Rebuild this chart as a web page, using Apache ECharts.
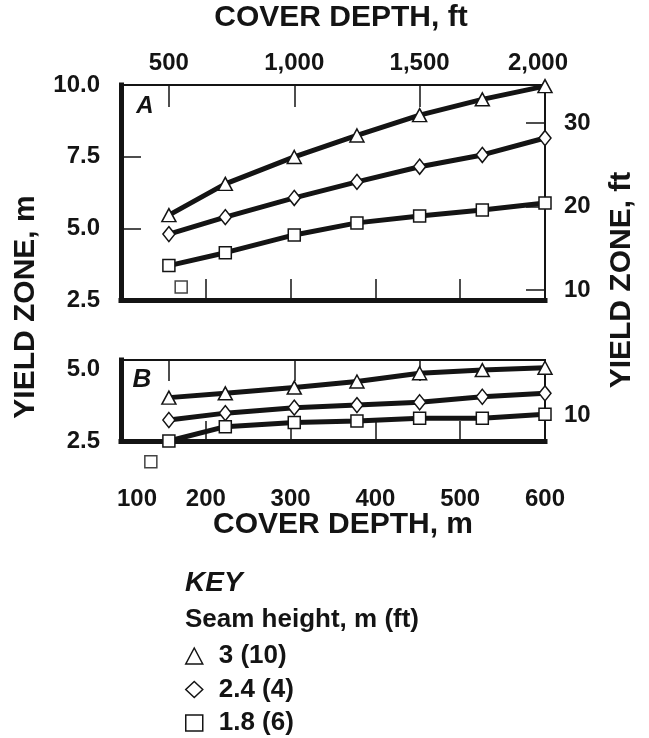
<!DOCTYPE html>
<html>
<head>
<meta charset="utf-8">
<script src="https://cdn.jsdelivr.net/npm/echarts@6/dist/echarts.min.js"></script>
<style>
  html, body { margin: 0; padding: 0; background: #ffffff; }
  #chart { width: 649px; height: 738px; }
</style>
</head>
<body>
<div id="chart"></div>
<script>
// Cover depth of the computed points, ft
const depthFt = [500, 725, 1000, 1250, 1500, 1750, 2000];

// Panel A: yield-zone width, m, per seam height
const zoneA_3m  = [5.46, 6.55, 7.49, 8.24, 8.95, 9.50, 9.96];
const zoneA_24m = [4.80, 5.39, 6.06, 6.62, 7.15, 7.56, 8.15];
const zoneA_18m = [3.70, 4.15, 4.77, 5.19, 5.43, 5.64, 5.88];

// Panel B: yield-zone width, m, per seam height
const zoneB_3m  = [4.01, 4.16, 4.36, 4.57, 4.86, 4.97, 5.05];
const zoneB_24m = [3.23, 3.47, 3.66, 3.75, 3.85, 4.04, 4.16];
const zoneB_18m = [2.50, 3.00, 3.14, 3.20, 3.29, 3.29, 3.43];

// Isolated square marks [depth ft, zone m]
const loneA = [[549, 2.95]];
const loneB = [[428, 1.78]];

// Seam heights, m (ft), and their marks
const seamNames = ['3 (10)', '2.4 (4)', '1.8 (6)'];
const seamSymbols = ['triangle', 'diamond', 'rect'];
const seamSymbolSizes = [[14, 13], [12, 15], [12, 12]];

// Tick values
const depthMTicks = [100, 200, 300, 400, 500, 600];
const depthMInner = [200, 300, 400, 500];
const depthFtLabels = [500, 1000, 1500, 2000];
const depthFtInner = [500, 1000, 1500];
const zoneATicks = [2.5, 5, 7.5, 10];
const zoneAInner = [5, 7.5];
const zoneAFtTicks = [10, 20, 30];
const zoneBTicks = [2.5, 5];
const zoneBFtTicks = [10];

const INK = '#141414';
const FONT = '"Liberation Sans", Arial, Helvetica, sans-serif';

const pairs = (xs, ys) => xs.map((x, i) => [x, ys[i]]);
const withComma = v => String(v).replace(/\B(?=(\d{3})+(?!\d))/g, ',');

function labelStyle(extra) {
  return Object.assign({
    color: INK, fontFamily: FONT, fontWeight: 'bold', fontSize: 24
  }, extra || {});
}

function axisLineStyle(width) {
  return { onZero: false, lineStyle: { color: INK, width: width, cap: 'square' } };
}

function innerTicks(values, length) {
  if (!values) return { show: false };
  return { show: true, inside: true, length: length, customValues: values,
           lineStyle: { color: INK, width: 1.5 } };
}

const xAxes = [
  // panel A, bottom (m)
  { gridIndex: 0, type: 'value', position: 'bottom', min: 100, max: 600,
    axisLine: axisLineStyle(5), axisTick: innerTicks(depthMInner, 21),
    axisLabel: { show: false }, splitLine: { show: false } },
  // panel A, top (ft)
  { gridIndex: 0, type: 'value', position: 'top', min: 309, max: 2000,
    axisLine: axisLineStyle(2), axisTick: innerTicks(depthFtInner, 22),
    axisLabel: labelStyle({
      customValues: depthFtLabels, margin: 10,
      formatter: v => v === 2000 ? '{e|' + withComma(v) + '}' : withComma(v),
      rich: { e: labelStyle({ padding: [0, 14, 0, 0] }) }
    }),
    splitLine: { show: false } },
  // panel B, bottom (m)
  { gridIndex: 1, type: 'value', position: 'bottom', min: 100, max: 600,
    axisLine: axisLineStyle(5), axisTick: innerTicks(depthMInner, 20),
    axisLabel: labelStyle({
      customValues: depthMTicks, margin: 46,
      formatter: v => v === 100 ? '{s|100}' : String(v),
      rich: { s: labelStyle({ padding: [0, 0, 0, 32] }) }
    }),
    splitLine: { show: false } },
  // panel B, top (ft)
  { gridIndex: 1, type: 'value', position: 'top', min: 309, max: 2000,
    axisLine: axisLineStyle(2), axisTick: innerTicks(depthFtInner, 21),
    axisLabel: { show: false }, splitLine: { show: false } }
];

const yAxes = [
  // panel A, left (m)
  { gridIndex: 0, type: 'value', position: 'left', min: 2.5, max: 10,
    axisLine: axisLineStyle(5), axisTick: innerTicks(zoneAInner, 20),
    axisLabel: labelStyle({ customValues: zoneATicks, margin: 21, formatter: v => v.toFixed(1) }),
    splitLine: { show: false } },
  // panel A, right (ft)
  { gridIndex: 0, type: 'value', position: 'right', min: 8.8, max: 34.55,
    axisLine: axisLineStyle(2), axisTick: innerTicks(zoneAFtTicks, 19),
    axisLabel: labelStyle({ customValues: zoneAFtTicks, margin: 19 }),
    splitLine: { show: false } },
  // panel B, left (m)
  { gridIndex: 1, type: 'value', position: 'left', min: 2.5, max: 5.32,
    axisLine: axisLineStyle(5), axisTick: { show: false },
    axisLabel: labelStyle({ customValues: zoneBTicks, margin: 21, formatter: v => v.toFixed(1) }),
    splitLine: { show: false } },
  // panel B, right (ft)
  { gridIndex: 1, type: 'value', position: 'right', min: 7.03, max: 16.29,
    axisLine: axisLineStyle(2), axisTick: { show: false },
    axisLabel: labelStyle({ customValues: zoneBFtTicks, margin: 19 }),
    splitLine: { show: false } }
];

function seamSeries(i, values, xIdx, yIdx) {
  return {
    type: 'line', name: seamNames[i], xAxisIndex: xIdx, yAxisIndex: yIdx,
    data: pairs(depthFt, values), clip: false,
    symbol: seamSymbols[i], symbolSize: seamSymbolSizes[i], showAllSymbol: true,
    lineStyle: { color: INK, width: 5 },
    itemStyle: { color: '#ffffff', borderColor: INK, borderWidth: 1.5 },
    emphasis: { disabled: true }, z: 3
  };
}

function loneSeries(data, xIdx, yIdx) {
  return {
    type: 'scatter', xAxisIndex: xIdx, yAxisIndex: yIdx, data: data, clip: false,
    symbol: 'rect', symbolSize: 12,
    itemStyle: { color: '#ffffff', borderColor: INK, borderWidth: 1.5 },
    emphasis: { disabled: true }, z: 3
  };
}

function text(x, y, str, size, opts) {
  opts = opts || {};
  return {
    type: 'text', x: x, y: y, rotation: opts.rotation || 0, silent: true,
    style: {
      text: str, fill: INK, fontFamily: FONT, fontWeight: 'bold',
      fontStyle: opts.italic ? 'italic' : 'normal', fontSize: size,
      align: opts.align || 'center', verticalAlign: 'middle'
    }
  };
}

const option = {
  animation: false,
  backgroundColor: '#ffffff',
  grid: [
    { left: 121, top: 85, width: 424, height: 215 },
    { left: 121, top: 360, width: 424, height: 81 }
  ],
  xAxis: xAxes,
  yAxis: yAxes,
  legend: {
    orient: 'vertical', left: 185, top: 643, padding: 0, selectedMode: false,
    itemWidth: 17, itemHeight: 16, itemGap: 7.5,
    textStyle: { color: INK, fontFamily: FONT, fontWeight: 'bold', fontSize: 26,
                 lineHeight: 26, padding: [0, 0, 0, 11] },
    data: seamNames.map((n, i) => ({
      name: n, icon: seamSymbols[i],
      itemStyle: { color: '#ffffff', borderColor: INK, borderWidth: 1.5 }
    }))
  },
  graphic: [
    text(341, 18, 'COVER DEPTH, ft', 30),
    text(343, 525, 'COVER DEPTH, m', 30),
    text(26, 307, 'YIELD ZONE, m', 30, { rotation: Math.PI / 2 }),
    text(622, 280, 'YIELD ZONE, ft', 30, { rotation: Math.PI / 2 }),
    text(145, 106, 'A', 24, { italic: true }),
    text(142, 380, 'B', 26, { italic: true }),
    text(185, 583, 'KEY', 28, { italic: true, align: 'left' }),
    text(185, 620, 'Seam height, m (ft)', 26, { align: 'left' })
  ],
  series: [
    seamSeries(0, zoneA_3m, 1, 0),
    seamSeries(1, zoneA_24m, 1, 0),
    seamSeries(2, zoneA_18m, 1, 0),
    loneSeries(loneA, 1, 0),
    seamSeries(0, zoneB_3m, 3, 2),
    seamSeries(1, zoneB_24m, 3, 2),
    seamSeries(2, zoneB_18m, 3, 2),
    loneSeries(loneB, 3, 2)
  ]
};

const chart = echarts.init(document.getElementById('chart'), null, { renderer: 'canvas' });
chart.setOption(option);
</script>
</body>
</html>
